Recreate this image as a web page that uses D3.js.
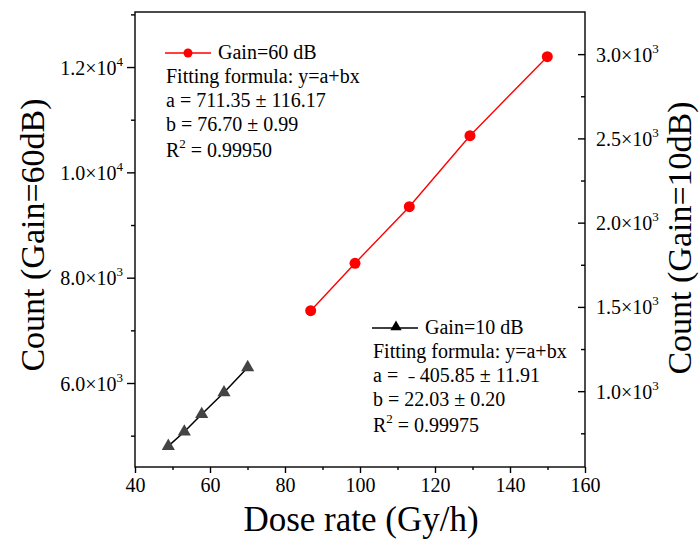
<!DOCTYPE html>
<html>
<head>
<meta charset="utf-8">
<script src="https://cdn.jsdelivr.net/npm/d3@7"></script>
<style>
  html, body { margin: 0; padding: 0; background: #fff; }
  svg { display: block; font-family: "Liberation Serif", "Times New Roman", serif; }
</style>
</head>
<body>
<svg id="chart" width="700" height="540"></svg>
<script>
// ---- data ----
const doseRate60 = [86.85, 98.67, 113.15, 129.33, 149.95];
const count60 = [7373, 8273, 9348, 10696, 12196];
const doseRate10 = [48.88, 53.15, 57.79, 63.73, 70.05];
const count10 = [674, 759, 863, 992, 1141];

const xTicks = [40, 60, 80, 100, 120, 140, 160];
const xMinor = [50, 70, 90, 110, 130, 150];
const leftTicks = [6000, 8000, 10000, 12000];
const leftTickLabels = [["6.0×10", "3"], ["8.0×10", "3"], ["1.0×10", "4"], ["1.2×10", "4"]];
const leftMinor = [5000, 7000, 9000, 11000, 13000];
const rightTicks = [1000, 1500, 2000, 2500, 3000];
const rightTickLabels = [["1.0×10", "3"], ["1.5×10", "3"], ["2.0×10", "3"], ["2.5×10", "3"], ["3.0×10", "3"]];
const rightMinor = [750, 1250, 1750, 2250, 2750];

const legend60 = ["Gain=60 dB", "Fitting formula: y=a+bx", "a = 711.35 ± 116.17", "b = 76.70 ± 0.99", "0.99950"];
const legend10 = ["Gain=10 dB", "Fitting formula: y=a+bx", "a = \u00a0\u02D7 405.85 ± 11.91", "b = 22.03 ± 0.20", "0.99975"];

// ---- layout ----
const L = 135, R = 585, T = 12, B = 467;
const svg = d3.select("#chart");

const x = d3.scaleLinear().domain([40, 160]).range([L, R]);
const yL = d3.scaleLinear().domain([4405, 13045]).range([B, T]);
const yR = d3.scaleLinear().domain([550, 3250]).range([B, T]);

const axisColor = "#000";

// frame
svg.append("rect").attr("x", L).attr("y", T).attr("width", R - L).attr("height", B - T)
  .attr("fill", "none").attr("stroke", axisColor).attr("stroke-width", 1.4);

function styleAxis(g) {
  g.select(".domain").remove();
  g.selectAll(".tick line").attr("stroke", axisColor).attr("stroke-width", 1.4);
}

// bottom axis
const gx = svg.append("g").attr("transform", `translate(0,${B})`)
  .call(d3.axisBottom(x).tickValues(xTicks).tickSize(6).tickPadding(5).tickFormat(d3.format("d")));
styleAxis(gx);
gx.selectAll(".tick text").attr("font-size", 20).attr("fill", "#000")
  .attr("font-family", "Liberation Serif");
svg.append("g").attr("transform", `translate(0,${B})`)
  .call(d3.axisBottom(x).tickValues(xMinor).tickSize(3).tickFormat(""))
  .call(styleAxis);

// left axis
const gl = svg.append("g").attr("transform", `translate(${L},0)`)
  .call(d3.axisLeft(yL).tickValues(leftTicks).tickSize(8).tickPadding(4).tickFormat(""));
styleAxis(gl);
gl.selectAll(".tick").each(function(d, i) {
  const t = d3.select(this).append("text")
    .attr("x", -12).attr("y", 7).attr("text-anchor", "end")
    .attr("font-size", 20).attr("fill", "#000").attr("font-family", "Liberation Serif");
  t.append("tspan").text(leftTickLabels[i][0]);
  t.append("tspan").attr("font-size", 13).attr("dy", -9).text(leftTickLabels[i][1]);
});
svg.append("g").attr("transform", `translate(${L},0)`)
  .call(d3.axisLeft(yL).tickValues(leftMinor).tickSize(4).tickFormat(""))
  .call(styleAxis);

// right axis (ticks inward)
const gr = svg.append("g").attr("transform", `translate(${R},0)`)
  .call(d3.axisLeft(yR).tickValues(rightTicks).tickSize(7).tickFormat(""));
styleAxis(gr);
gr.selectAll(".tick").each(function(d, i) {
  const t = d3.select(this).append("text")
    .attr("x", 11).attr("y", 7).attr("text-anchor", "start")
    .attr("font-size", 20).attr("fill", "#000").attr("font-family", "Liberation Serif");
  t.append("tspan").text(rightTickLabels[i][0]);
  t.append("tspan").attr("font-size", 13).attr("dy", -9).text(rightTickLabels[i][1]);
});
svg.append("g").attr("transform", `translate(${R},0)`)
  .call(d3.axisLeft(yR).tickValues(rightMinor).tickSize(4).tickFormat(""))
  .call(styleAxis);

// axis titles
svg.append("text").attr("x", 361).attr("y", 531).attr("text-anchor", "middle")
  .attr("font-size", 35).text("Dose rate (Gy/h)");
svg.append("text").attr("transform", "translate(44,235) rotate(-90)").attr("text-anchor", "middle")
  .attr("font-size", 34).text("Count (Gain=60dB)");
svg.append("text").attr("transform", "translate(691,238) rotate(-90)").attr("text-anchor", "middle")
  .attr("font-size", 34).text("Count (Gain=10dB)");

// ---- series ----
const pts60 = doseRate60.map((d, i) => [d, count60[i]]);
const pts10 = doseRate10.map((d, i) => [d, count10[i]]);

svg.append("path").datum(pts60)
  .attr("d", d3.line().x(d => x(d[0])).y(d => yL(d[1])))
  .attr("fill", "none").attr("stroke", "#ff0000").attr("stroke-width", 1.4);
svg.selectAll(".c60").data(pts60).enter().append("circle")
  .attr("cx", d => x(d[0])).attr("cy", d => yL(d[1])).attr("r", 5.5).attr("fill", "#ff0000");

svg.append("path").datum(pts10)
  .attr("d", d3.line().x(d => x(d[0])).y(d => yR(d[1])))
  .attr("fill", "none").attr("stroke", "#000").attr("stroke-width", 1.5);
const tri = d3.symbol().type(d3.symbolTriangle).size(75);
svg.selectAll(".t10").data(pts10).enter().append("path")
  .attr("d", tri).attr("transform", d => `translate(${x(d[0])},${yR(d[1])})`)
  .attr("fill", "#444");

// ---- legends ----
function legend(x0, y0, lineColor, marker, lines) {
  const g = svg.append("g").attr("font-size", 20).attr("fill", "#000");
  g.append("line").attr("x1", x0).attr("x2", x0 + 46).attr("y1", y0 - 5).attr("y2", y0 - 5)
    .attr("stroke", lineColor).attr("stroke-width", 1.4);
  if (marker === "circle") {
    g.append("circle").attr("cx", x0 + 23).attr("cy", y0 - 5).attr("r", 4.5).attr("fill", "#ff0000");
  } else {
    g.append("path").attr("d", d3.symbol().type(d3.symbolTriangle).size(55))
      .attr("transform", `translate(${x0 + 24},${y0 - 6})`).attr("fill", "#000");
  }
  g.append("text").attr("x", x0 + 53).attr("y", y0 + 1).text(lines[0]);
  g.append("text").attr("x", x0 + 1).attr("y", y0 + 25).text(lines[1]);
  g.append("text").attr("x", x0 + 1).attr("y", y0 + 49).text(lines[2]);
  g.append("text").attr("x", x0 + 1).attr("y", y0 + 73).text(lines[3]);
  const r = g.append("text").attr("x", x0 + 1).attr("y", y0 + 99);
  r.append("tspan").text("R");
  r.append("tspan").attr("font-size", 13).attr("dy", -9).text("2");
  r.append("tspan").attr("dy", 9).text(" = " + lines[4]);
}
legend(165, 58, "#ff0000", "circle", legend60);
legend(372, 333, "#000", "triangle", legend10);
</script>
</body>
</html>
